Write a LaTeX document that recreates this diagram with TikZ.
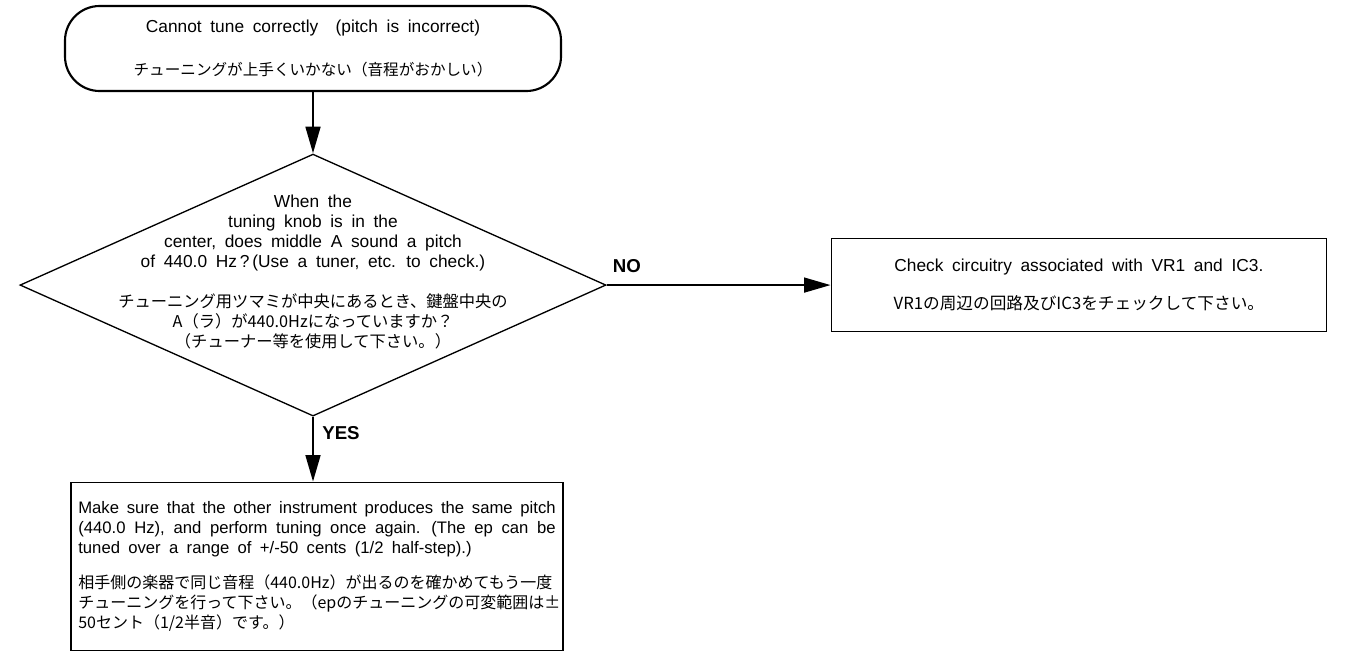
\documentclass[tikz,border=0pt]{standalone}
\usepackage{fontspec}
\setmainfont{Liberation Sans}[WordSpace=1.8]
\newfontfamily\jp{Noto Sans CJK JP}
\usepackage{tikz}
\usetikzlibrary{shapes.geometric,arrows.meta,positioning}
\newcommand{\zerobox}[1]{\raisebox{0pt}[0pt][0pt]{\makebox[0pt]{#1}}}
\newcommand{\jpsize}[1]{\jp\fontsize{#1}{15}\selectfont}
\tikzset{
  term/.style ={rectangle, rounded corners=26pt, draw=black, line width=1.6pt,
                minimum width=372pt, minimum height=63.75pt, align=center, inner sep=0pt},
  dec/.style  ={diamond, draw=black, line width=1pt, minimum width=439.5pt,
                minimum height=196.5pt, inner sep=0pt},
  box/.style  ={rectangle, draw=black, line width=1.1pt, minimum width=371.25pt,
                minimum height=69.75pt, align=center, inner sep=0pt},
  flow/.style ={-{Triangle[length=20pt, width=11pt]}, line width=2pt, draw=black},
  lbl/.style  ={font=\fontsize{14}{15}\selectfont\bfseries, inner sep=0pt}
}
\begin{document}
\begin{tikzpicture}[x=0.75pt, y=-0.75pt, font=\fontsize{13}{15}\selectfont]
\useasboundingbox (0,0) rectangle (1345,651);
\node[term] (start) at (313,48.5)
  {Cannot tune correctly\ \ (pitch is incorrect)\\[17pt]
   {\jpsize{11.7}チューニングが上手くいかない（音程がおかしい）}};
\node[dec, below=46pt of start] (check)
  {\zerobox{\raisebox{6pt}{\begin{tabular}{@{}c@{}}
   When the\\ tuning knob is in the\\ center, does middle A sound a pitch\\
   of 440.0 Hz\,?\,(Use a tuner, etc. to check.)\\[15pt]
   {\jpsize{12.2}チューニング用ツマミが中央にあるとき、鍵盤中央の}\\
   {\jpsize{12.2}A（ラ）が440.0Hzになっていますか？}\\
   {\jpsize{12.2}（チューナー等を使用して下さい。）}
   \end{tabular}}}};
\node[box, right=168pt of check] (vrcheck)
  {Check circuitry associated with VR1 and IC3.\\[14pt]
   {\jpsize{12.5}VR1の周辺の回路及びIC3をチェックして下さい。}};
\node[box, below=48.75pt of check, xshift=3pt, minimum width=0pt, minimum height=126pt,
      text width=358pt, inner xsep=5.5pt, align=justify,
      font=\fontsize{12.5}{15}\selectfont] (retune)
  {Make sure that the other instrument produces the same pitch\linebreak
   (440.0 Hz), and perform tuning once again. (The ep can be\linebreak
   tuned over a range of +/-50 cents (1/2 half-step).)\par\vspace{11pt}
   {\jpsize{12}相手側の楽器で同じ音程（440.0Hz）が出るのを確かめてもう一度\\
   チューニングを行って下さい。（epのチューニングの可変範囲は±\\
   50セント（1/2半音）です。）}};
\draw[flow] (start) -- (check);
\draw[flow] (check.east) -- node[lbl, pos=0.09, above=8pt]{NO} (vrcheck);
\draw[flow] (check.south) -- node[lbl, pos=0.25, right=6pt]{YES} (retune.north -| check.south);
\end{tikzpicture}
\end{document}
